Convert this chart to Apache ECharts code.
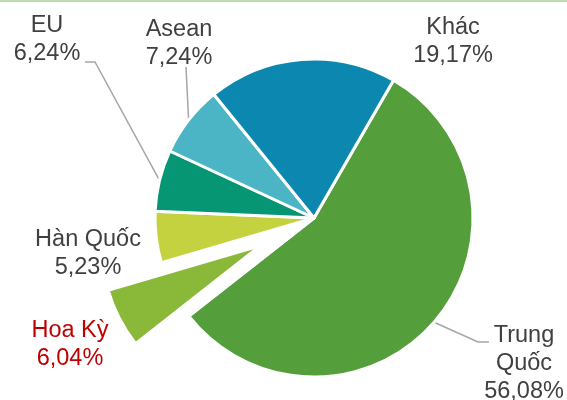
<!DOCTYPE html>
<html>
<head>
<meta charset="utf-8">
<script src="https://cdn.jsdelivr.net/npm/echarts@6/dist/echarts.min.js"></script>
<style>
  html, body { margin: 0; padding: 0; background: #fff; }
  #chart { width: 567px; height: 400px; }
</style>
</head>
<body>
<div id="chart"></div>
<script>
// dữ liệu
const names = ['Trung\nQuốc', 'Hoa Kỳ', 'Hàn Quốc', 'EU', 'Asean', 'Khác'];
const shares = [56.08, 6.04, 5.23, 6.24, 7.24, 19.17];
const colors = ['#559e3c', '#8ab838', '#c3d23e', '#069674', '#4bb5c5', '#0b87b0'];
const explodedIndex = 1; // Hoa Kỳ tách ra

// vị trí nhãn (tâm khối chữ)
const labelPos = [[524, 364], [70, 345], [88, 254], [47, 40], [179, 44], [453, 42]];
// điểm gấp của đường dẫn nhãn: [điểm gấp, điểm cuối]
const leader = {
  0: [[478, 342], [489, 342]],
  3: [[95, 62], [85, 62]],
  4: [[186, 67]]
};

const center = [314, 218];
const R = 159;
const startAngle = 60;
const explodeDist = 60;

// hướng tách của miếng Hoa Kỳ (theo góc giữa của miếng)
const total = shares.reduce((a, b) => a + b, 0);
const before = shares.slice(0, explodedIndex).reduce((a, b) => a + b, 0);
const midDeg = startAngle - (before + shares[explodedIndex] / 2) / total * 360;
const midRad = midDeg * Math.PI / 180;
const center2 = [center[0] + explodeDist * Math.cos(midRad), center[1] - explodeDist * Math.sin(midRad)];

const chart = echarts.init(document.getElementById('chart'));

const fmt = p => p.name + '\n' + p.value.toFixed(2).replace('.', ',') + '%';

const labelLayout = function (params) {
  const i = params.dataIndex;
  const res = {
    x: labelPos[i][0],
    y: labelPos[i][1],
    align: 'center',
    verticalAlign: 'middle'
  };
  if (leader[i] && params.labelLinePoints) {
    res.labelLinePoints = [params.labelLinePoints[0]].concat(leader[i]);
  }
  return res;
};

const baseLabel = {
  show: true,
  position: 'outside',
  fontFamily: 'Liberation Sans, Arial, sans-serif',
  fontSize: 23.5,
  lineHeight: 28,
  formatter: fmt
};

const mainData = shares.map((v, i) => {
  const hidden = i === explodedIndex;
  return {
    name: names[i],
    value: v,
    itemStyle: { color: hidden ? 'rgba(0,0,0,0)' : colors[i] },
    label: { show: !hidden, color: '#404040' },
    labelLine: { show: !hidden && leader[i] !== undefined }
  };
});

const explodedData = shares.map((v, i) => {
  const shown = i === explodedIndex;
  return {
    name: names[i],
    value: v,
    itemStyle: shown ? { color: colors[i] } : { color: 'rgba(0,0,0,0)', borderWidth: 0 },
    label: { show: shown, color: '#c00000' },
    labelLine: { show: false }
  };
});

const common = {
  type: 'pie',
  radius: R,
  startAngle: startAngle,
  avoidLabelOverlap: false,
  silent: true,
  itemStyle: { borderColor: '#fff', borderWidth: 3 },
  emphasis: { disabled: true },
  label: baseLabel,
  labelLine: {
    length: 20,
    length2: 10,
    lineStyle: { color: '#a6a6a6', width: 1.5 }
  },
  labelLayout: labelLayout
};

const option = {
  animation: false,
  graphic: [{
    type: 'rect',
    shape: { x: 0, y: 0, width: 567, height: 2 },
    style: { fill: '#bddcab' },
    silent: true
  }],
  series: [
    Object.assign({}, common, { center: center, data: mainData }),
    Object.assign({}, common, { center: center2, data: explodedData })
  ]
};

chart.setOption(option);
</script>
</body>
</html>
